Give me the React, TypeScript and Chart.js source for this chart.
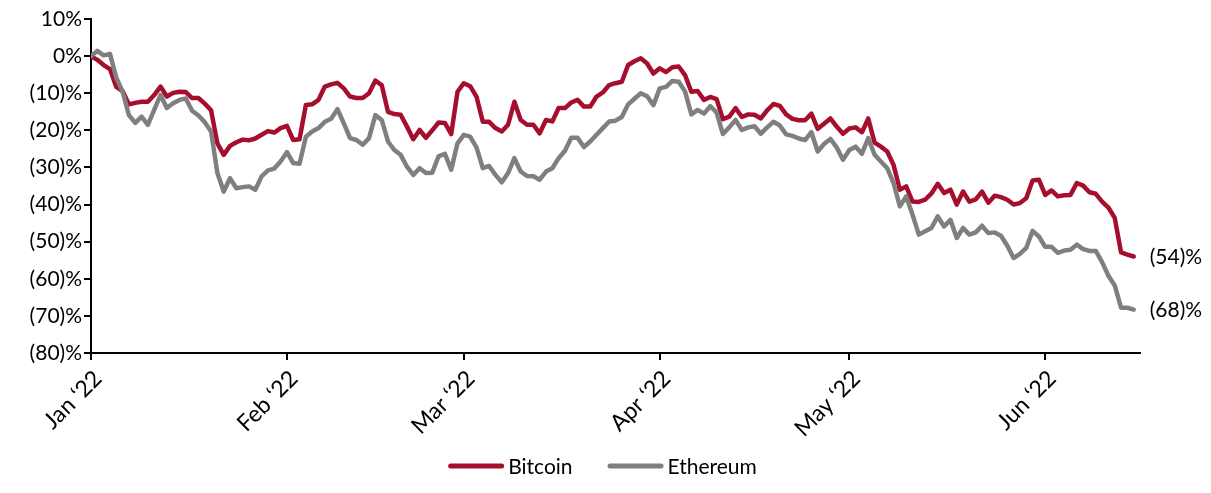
import React, { useEffect, useRef } from "react";
import { Chart, registerables } from "chart.js";

Chart.register(...registerables);

// Day index 0 = 1 Jan 2022; month tick positions and labels
const monthStartDays = [0, 31, 59, 90, 120, 151];
const monthLabels = ["Jan ‘22", "Feb ‘22", "Mar ‘22", "Apr ‘22", "May ‘22", "Jun ‘22"];
const seriesNames = ["Bitcoin", "Ethereum"];

// Cumulative change since 1 Jan 2022, %, one value per day (1 Jan – 15 Jun)
const bitcoin = [
  0, -1, -2.4, -3.5, -8.3, -9.4, -13, -12.6, -12.3, -12.3,
  -10.5, -8.2, -10.9, -9.9, -9.6, -9.7, -11.3, -11.3, -12.8, -14.6,
  -23.5, -26.6, -24.2, -23.2, -22.5, -22.7, -22.2, -21.2, -20.2, -20.6,
  -19.4, -18.8, -22.6, -22.4, -13.2, -13, -11.8, -8.2, -7.6, -7.2,
  -8.7, -10.9, -11.3, -11.3, -10, -6.6, -7.8, -15, -15.6, -15.8,
  -19, -22.4, -19.9, -22, -20, -17.9, -18, -21, -9.6, -7.3,
  -8.1, -10.9, -17.7, -17.7, -19.4, -20.3, -18.5, -12.3, -17.2, -18.5,
  -18.5, -20.8, -17.2, -17.6, -14, -14, -12.5, -11.8, -13.6, -13.6,
  -10.9, -9.8, -7.8, -7.3, -6.9, -2.4, -1.4, -0.6, -2, -4.7,
  -3.3, -4.3, -3, -2.8, -5.1, -9.6, -9.4, -11.8, -11, -11.6,
  -17, -16.3, -14, -16.4, -15.7, -15.8, -16.8, -14.6, -12.9, -13.4,
  -15.7, -16.9, -17.3, -17.3, -15.5, -19.6, -18.2, -16.8, -19, -20.9,
  -19.5, -19.2, -20.5, -16.8, -23.3, -24.4, -25.7, -29.3, -36, -35.1,
  -39.2, -39.3, -38.7, -37, -34.4, -36.9, -36, -40, -36.5, -39.2,
  -38.6, -36.5, -39.5, -37.6, -38, -38.7, -40, -39.6, -38.3, -33.5,
  -33.3, -37.4, -36.2, -37.8, -37.5, -37.4, -34.2, -34.9, -36.7, -37.1,
  -39.2, -40.8, -43.6, -52.9, -53.5, -54,
];

const ethereum = [
  0, 1.4, 0.2, 0.6, -5.8, -9.6, -15.9, -18, -16.3, -18.5,
  -14.5, -10.5, -14, -12.7, -11.8, -11.4, -14.7, -16, -17.8, -20.3,
  -31.5, -36.5, -32.9, -35.6, -35.3, -35.1, -36, -32.4, -30.8, -30.3,
  -28.4, -25.9, -28.8, -29, -21.7, -20.3, -19.4, -17.7, -16.9, -14.3,
  -18.1, -22.1, -22.6, -23.9, -22.1, -15.9, -17.2, -23, -25.3, -26.6,
  -29.8, -32, -30.2, -31.5, -31.4, -27, -26.3, -30.6, -23.5, -21.2,
  -21.7, -24.6, -30.2, -29.6, -32, -34, -31.5, -27.5, -31.1, -32.3,
  -32.4, -33.3, -31.1, -30.2, -27.5, -25.5, -22, -22, -24.5, -23,
  -21.2, -19.4, -17.6, -17.4, -16.4, -13, -11.5, -10, -10.8, -13.2,
  -8.7, -8.3, -6.7, -6.9, -9.5, -15.7, -14.5, -15.5, -13.5, -15.2,
  -21, -19.2, -17.2, -19.9, -19.2, -18.9, -20.9, -19.2, -17.7, -18.7,
  -21.1, -21.5, -22.2, -22.6, -20.5, -25.7, -23.7, -22.3, -24.6, -27.9,
  -25.3, -24.4, -26.3, -22.1, -26.6, -28.4, -30.2, -34.2, -40.5, -37.8,
  -42.7, -48.1, -47.2, -46.3, -43.2, -45.9, -44.1, -49, -46.3, -48.1,
  -47.5, -45.7, -47.7, -47.5, -48.4, -51.1, -54.4, -53.3, -51.7, -47.1,
  -48.6, -51.4, -51.4, -53, -52.4, -52.2, -50.8, -52, -52.5, -52.5,
  -55.5, -59.2, -61.8, -67.8, -67.8, -68.3,
];

const yMin = -80;
const yMax = 10;
const yStep = 10;
const xMax = 166;

const RED = "#A50F2D";
const GRAY = "#7F7F7F";
const FONT_FAMILY = "Lato, 'Open Sans', sans-serif";
const FONT_SIZE = 21;
const FONT = { family: FONT_FAMILY, size: FONT_SIZE };
const X_FONT = { family: FONT_FAMILY, size: 23 };

function pct(v: number): string {
  if (v > 0) return `${v}%`;
  if (v === 0) return "0%";
  return `(${-v})%`;
}

const endLabelPlugin = {
  id: "endLabels",
  afterDatasetsDraw(chart: any) {
    const ctx = chart.ctx;
    ctx.save();
    ctx.font = `${FONT_SIZE}px ${FONT_FAMILY}`;
    ctx.fillStyle = "#000";
    ctx.textAlign = "left";
    ctx.textBaseline = "middle";
    chart.data.datasets.forEach((ds: any, i: number) => {
      const meta = chart.getDatasetMeta(i);
      const pts = meta.data;
      const last = pts[pts.length - 1];
      const v = ds.data[ds.data.length - 1].y;
      ctx.fillText(pct(Math.round(v)), last.x + 16, last.y + 1);
    });
    ctx.restore();
  },
};

// Bottom legend: line sample + series name, centred under the chart
const lineLegendPlugin = {
  id: "lineLegend",
  afterDraw(chart: any) {
    const ctx = chart.ctx;
    const sample = 56;
    const textGap = 4;
    const itemGap = 35;
    const y = 466;
    ctx.save();
    ctx.font = `${FONT_SIZE}px ${FONT_FAMILY}`;
    const items = chart.data.datasets.map((ds: any) => ({
      text: ds.label as string,
      color: ds.borderColor as string,
      w: ctx.measureText(ds.label).width,
    }));
    const total =
      items.reduce((a: number, it: any) => a + sample + textGap + it.w, 0) +
      itemGap * (items.length - 1);
    let x = chart.width / 2 - 3 - total / 2;
    items.forEach((it: any) => {
      ctx.beginPath();
      ctx.strokeStyle = it.color;
      ctx.lineWidth = 5;
      ctx.lineCap = "round";
      ctx.moveTo(x + 2.5, y);
      ctx.lineTo(x + sample - 2.5, y);
      ctx.stroke();
      ctx.fillStyle = "#000";
      ctx.textAlign = "left";
      ctx.textBaseline = "middle";
      ctx.fillText(it.text, x + sample + textGap, y + 1);
      x += sample + textGap + it.w + itemGap;
    });
    ctx.restore();
  },
};

export default function App() {
  const ref = useRef<HTMLCanvasElement>(null);

  useEffect(() => {
    if (!ref.current) return;
    const axisGrid = {
      display: true,
      drawOnChartArea: false,
      drawTicks: true,
      tickLength: 7,
      color: "#000",
      lineWidth: 2,
    };
    const axisBorder = { display: true, color: "#000", width: 2 };

    const chart = new Chart(ref.current, {
      type: "line",
      data: {
        datasets: [
          {
            label: seriesNames[0],
            data: bitcoin.map((y, x) => ({ x, y })),
            borderColor: RED,
            backgroundColor: RED,
            borderWidth: 4.5,
            pointRadius: 0,
            tension: 0,
            borderJoinStyle: "round",
            borderCapStyle: "round",
            order: 1,
          },
          {
            label: seriesNames[1],
            data: ethereum.map((y, x) => ({ x, y })),
            borderColor: GRAY,
            backgroundColor: GRAY,
            borderWidth: 4.5,
            pointRadius: 0,
            tension: 0,
            borderJoinStyle: "round",
            borderCapStyle: "round",
            order: 0,
          },
        ],
      },
      options: {
        responsive: false,
        animation: false,
        devicePixelRatio: 1,
        layout: { padding: { top: 19, right: 71, left: 0, bottom: 48 } },
        plugins: {
          legend: { display: false },
          tooltip: { enabled: false },
        },
        scales: {
          x: {
            type: "linear",
            min: 0,
            max: xMax,
            afterBuildTicks: (s: any) => {
              s.ticks = monthStartDays.map((value) => ({ value }));
            },
            afterFit: (s: any) => {
              s.height = 92;
            },
            ticks: {
              autoSkip: false,
              minRotation: 45,
              maxRotation: 45,
              font: X_FONT,
              color: "#000",
              padding: 5,
              labelOffset: 7,
              callback: (v: any) => {
                const k = monthStartDays.indexOf(Number(v));
                return k >= 0 ? monthLabels[k] : "";
              },
            },
            grid: axisGrid,
            border: axisBorder,
          },
          y: {
            type: "linear",
            min: yMin,
            max: yMax,
            afterFit: (s: any) => {
              s.width = 91;
            },
            ticks: {
              stepSize: yStep,
              font: FONT,
              color: "#000",
              padding: 2,
              callback: (v: any) => pct(Number(v)),
            },
            grid: axisGrid,
            border: axisBorder,
          },
        },
      },
      plugins: [endLabelPlugin, lineLegendPlugin],
    } as any);

    return () => chart.destroy();
  }, []);

  return (
    <div
      style={{
        position: "fixed",
        left: 0,
        top: 0,
        width: 1211,
        height: 493,
        background: "#fff",
      }}
    >
      <canvas ref={ref} width={1211} height={493} style={{ display: "block" }} />
    </div>
  );
}
